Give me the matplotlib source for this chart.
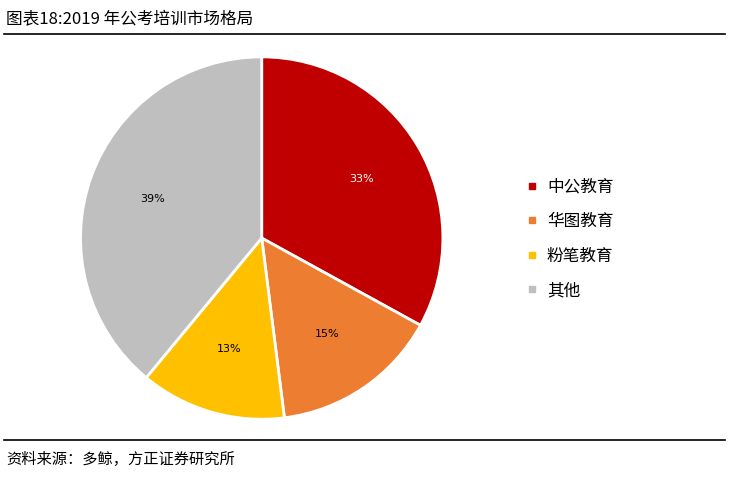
import matplotlib
matplotlib.use("Agg")
import matplotlib.pyplot as plt
from matplotlib.lines import Line2D

plt.rcParams['font.family'] = ['Noto Sans CJK SC', 'DejaVu Sans']

labels = ['中公教育', '华图教育', '粉笔教育', '其他']
values = [33, 15, 13, 39]
colors = ['#C00000', '#ED7D31', '#FFC000', '#BFBFBF']
pct_colors = ['white', 'black', 'black', 'black']

fig = plt.figure(figsize=(7.29, 4.78), dpi=100)
ax = fig.add_axes([0.108, 0.119, 0.502, 0.766])
wedges, texts, autotexts = ax.pie(values, colors=colors, startangle=90, counterclock=False,
                                  autopct='%d%%', pctdistance=0.64,
                                  wedgeprops=dict(edgecolor='white', linewidth=2),
                                  textprops=dict(fontsize=8, family='DejaVu Sans'))
for t, c in zip(autotexts, pct_colors):
    t.set_color(c)
ax.set_xlim(-1.01, 1.01)
ax.set_ylim(-1.01, 1.01)
ax.set_aspect('equal')

handles = [Line2D([], [], marker='s', linestyle='', color=c, markersize=5) for c in colors]
fig.legend(handles, labels, loc='center left', bbox_to_anchor=(0.70, 0.50), frameon=False,
           fontsize=12, handletextpad=0.5, labelspacing=1.05, handlelength=0.8)

fig.text(0.008, 0.958, '图表18:2019 年公考培训市场格局', fontsize=12, va='center', ha='left')
fig.add_artist(Line2D([0.005, 0.995], [0.929, 0.929], color='black', lw=1.2))
fig.add_artist(Line2D([0.005, 0.995], [0.079, 0.079], color='black', lw=1.2))
fig.text(0.008, 0.038, '资料来源：多鲸，方正证券研究所', fontsize=11, va='center', ha='left', style='italic')

fig.savefig('out.png', dpi=100)
